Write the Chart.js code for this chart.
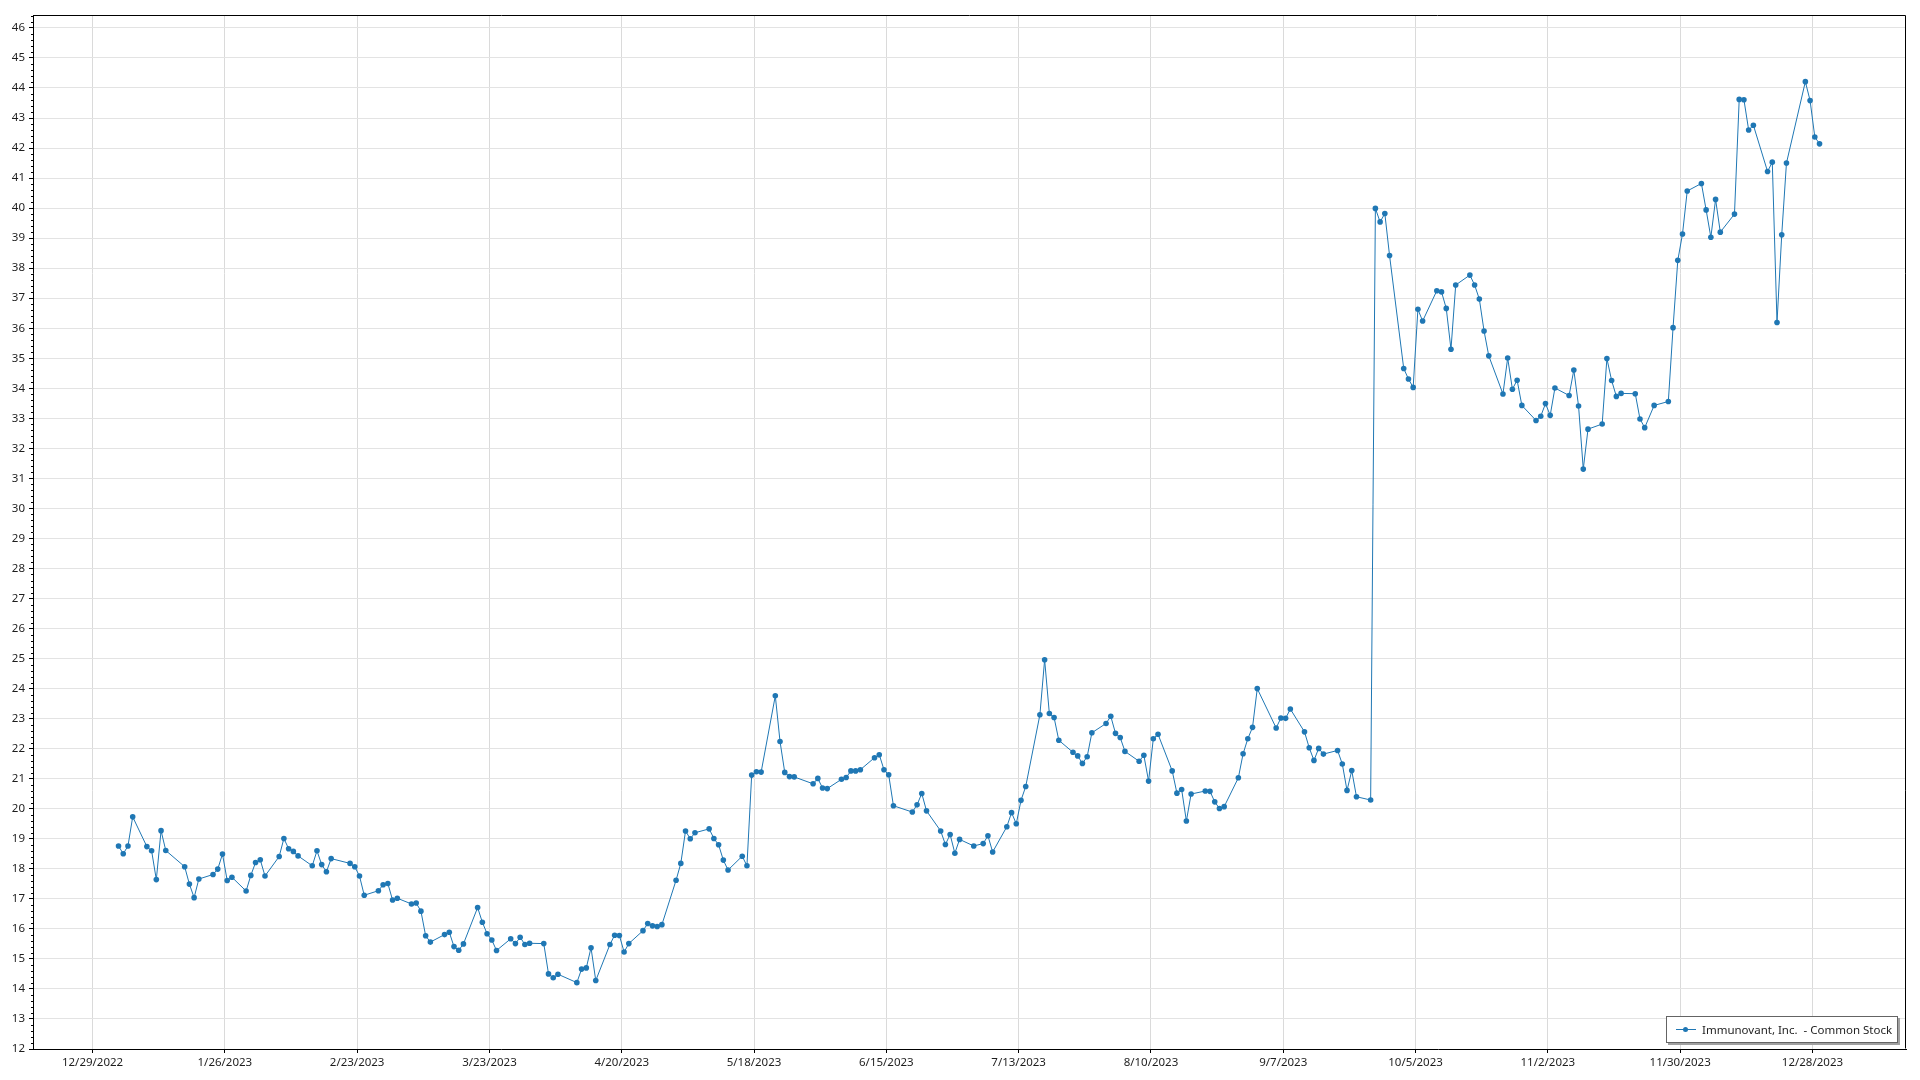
<!DOCTYPE html>
<html>
<head>
<meta charset="utf-8">
<script src="https://cdn.jsdelivr.net/npm/chart.js@4.4.1/dist/chart.umd.min.js"></script>
<style>
  html, body { margin: 0; padding: 0; background: #fff; overflow: hidden; }
  #wrap { position: relative; width: 1920px; height: 1080px; }
  #legend {
    position: absolute; left: 1666px; top: 1016px; width: 230px; height: 25px;
    border: 1px solid #646464; background: #fff; box-shadow: 2px 2px 0 #a0a0a0;
    font-family: "Noto Sans", "Open Sans", sans-serif; font-size: 11.5px; color: #1e1e1e;
    display: flex; align-items: center; white-space: pre;
  }
  #legend .sym { position: relative; width: 20px; height: 2px; margin-left: 9px; margin-right: 6px; }
  #legend .sym::before { content: ""; position: absolute; left: 0; right: 0; top: 0; height: 1px; background: #1f77b4; }
  #legend .sym::after { content: ""; position: absolute; left: 7px; top: -2px; width: 5px; height: 5px; border-radius: 50%; background: #1f77b4; }
</style>
</head>
<body>
<div id="wrap">
  <canvas id="c" width="1920" height="1080"></canvas>
  <div id="legend"><span class="sym"></span><span id="legendText"></span></div>
</div>
<script>
const seriesName = "Immunovant, Inc.  - Common Stock";

// Trading days of 2023 (day of month) and closing prices, by month
const janDays = [3,4,5,6,9,10,11,12,13,17,18,19,20,23,24,25,26,27,30,31];
const janClose = [18.76,18.50,18.76,19.73,18.74,18.60,17.64,19.27,18.61,18.07,17.49,17.04,17.66,17.81,17.99,18.49,17.61,17.72,17.26,17.78];
const febDays = [1,2,3,6,7,8,9,10,13,14,15,16,17,21,22,23,24,27,28];
const febClose = [18.21,18.30,17.76,18.41,19.01,18.67,18.58,18.43,18.10,18.60,18.14,17.90,18.34,18.18,18.07,17.76,17.12,17.27,17.47];
const marDays = [1,2,3,6,7,8,9,10,13,14,15,16,17,20,21,22,23,24,27,28,29,30,31];
const marClose = [17.51,16.96,17.02,16.83,16.86,16.59,15.77,15.56,15.81,15.89,15.41,15.29,15.50,16.71,16.22,15.84,15.63,15.28,15.67,15.51,15.72,15.48,15.52];
const aprDays = [3,4,5,6,10,11,12,13,14,17,18,19,20,21,24,25,26,27,28];
const aprClose = [15.51,14.50,14.37,14.49,14.21,14.66,14.70,15.37,14.28,15.48,15.79,15.78,15.23,15.51,15.94,16.18,16.10,16.08,16.14];
const mayDays = [1,2,3,4,5,8,9,10,11,12,15,16,17,18,19,22,23,24,25,26,30,31];
const mayClose = [17.62,18.18,19.26,19.00,19.20,19.33,19.01,18.80,18.29,17.96,18.42,18.10,21.12,21.23,21.22,23.76,22.24,21.21,21.07,21.06,20.83,21.01];
const junDays = [1,2,5,6,7,8,9,12,13,14,15,16,20,21,22,23,26,27,28,29,30];
const junClose = [20.69,20.67,20.98,21.04,21.26,21.26,21.30,21.70,21.80,21.30,21.13,20.10,19.89,20.13,20.51,19.93,19.26,18.81,19.14,18.52,18.98];
const julDays = [3,5,6,7,10,11,12,13,14,17,18,19,20,21,24,25,26,27,28,31];
const julClose = [18.76,18.84,19.10,18.56,19.40,19.87,19.50,20.28,20.74,23.13,24.96,23.17,23.04,22.28,21.88,21.76,21.51,21.73,22.53,22.84];
const augDays = [1,2,3,4,7,8,9,10,11,14,15,16,17,18,21,22,23,24,25,28,29,30,31];
const augClose = [23.08,22.51,22.37,21.91,21.58,21.78,20.92,22.33,22.48,21.26,20.52,20.64,19.59,20.49,20.59,20.58,20.23,20.01,20.07,21.03,21.83,22.33,22.71];
const sepDays = [1,5,6,7,8,11,12,13,14,15,18,19,20,21,22,25,26,27,28,29];
const sepClose = [24.00,22.69,23.02,23.01,23.32,22.56,22.03,21.61,22.01,21.82,21.94,21.49,20.61,21.27,20.40,20.29,39.99,39.54,39.82,38.42];
const octDays = [2,3,4,5,6,9,10,11,12,13,16,17,18,19,20,23,24,25,26,27,30,31];
const octClose = [34.66,34.31,34.03,36.63,36.24,37.25,37.21,36.66,35.30,37.44,37.77,37.44,36.97,35.91,35.08,33.81,35.01,33.97,34.27,33.43,32.93,33.07];
const novDays = [1,2,3,6,7,8,9,10,13,14,15,16,17,20,21,22,24,27,28,29,30];
const novClose = [33.49,33.10,34.01,33.76,34.61,33.41,31.31,32.64,32.81,34.99,34.26,33.73,33.83,33.82,32.98,32.69,33.43,33.56,36.02,38.26,39.14];
const decDays = [1,4,5,6,7,8,11,12,13,14,15,18,19,20,21,22,26,27,28,29];
const decClose = [40.57,40.82,39.94,39.03,40.29,39.20,39.80,43.62,43.61,42.60,42.76,41.22,41.53,36.19,39.11,41.50,44.21,43.58,42.37,42.14];

const xTickLabels = ["12/29/2022","1/26/2023","2/23/2023","3/23/2023","4/20/2023","5/18/2023","6/15/2023","7/13/2023","8/10/2023","9/7/2023","10/5/2023","11/2/2023","11/30/2023","12/28/2023"];
const yTickValues = [12,13,14,15,16,17,18,19,20,21,22,23,24,25,26,27,28,29,30,31,32,33,34,35,36,37,38,39,40,41,42,43,44,45,46];

// ---- build from arrays ----
const DAY = 86400000;
const origin = Date.UTC(2022, 11, 29);
function dayNum(y, m, d, hour) { return (Date.UTC(y, m, d, hour || 0) - origin) / DAY; }
function parseMDY(s) { const [m, d, y] = s.split('/').map(Number); return dayNum(y, m - 1, d); }

const monthDays = [janDays,febDays,marDays,aprDays,mayDays,junDays,julDays,augDays,sepDays,octDays,novDays,decDays];
const monthClose = [janClose,febClose,marClose,aprClose,mayClose,junClose,julClose,augClose,sepClose,octClose,novClose,decClose];
const points = [];
// each session is stamped at midday
monthDays.forEach((days, m) => days.forEach((d, i) => points.push({ x: dayNum(2023, m, d, 12), y: monthClose[m][i] })));
const xTickDays = xTickLabels.map(parseMDY);

document.getElementById('legendText').textContent = seriesName;

const FONT = { family: "'Noto Sans', 'Open Sans', sans-serif", size: 11.5 };
const TEXT = '#1e1e1e';
const LINE = '#1f77b4';

const frame = {
  id: 'frame',
  afterDraw(chart) {
    const { ctx, chartArea: a, scales: { y } } = chart;
    ctx.save();
    ctx.strokeStyle = '#000';
    ctx.lineWidth = 1;
    ctx.beginPath();
    ctx.moveTo(Math.round(a.left) + 0.5, Math.round(a.top) + 0.5);
    ctx.lineTo(Math.round(a.right) - 0.5, Math.round(a.top) + 0.5);
    ctx.lineTo(Math.round(a.right) - 0.5, Math.round(a.bottom) - 0.5);
    ctx.stroke();
    // minor ticks on the value axis
    ctx.beginPath();
    for (let k = 0; k < yTickValues.length; k++) {
      for (let j = 1; j < 5; j++) {
        const v = yTickValues[k] + j * 0.2;
        if (v > y.max) break;
        const py = Math.round(y.getPixelForValue(v)) + 0.5;
        ctx.moveTo(Math.round(a.left) - 2, py);
        ctx.lineTo(Math.round(a.left), py);
      }
    }
    ctx.stroke();
    ctx.restore();
  }
};

new Chart(document.getElementById('c'), {
  type: 'line',
  data: {
    datasets: [{
      label: seriesName,
      data: points,
      borderColor: LINE,
      backgroundColor: LINE,
      borderWidth: 1,
      pointRadius: 2.8,
      pointHoverRadius: 2.8,
      pointBorderWidth: 0,
      tension: 0
    }]
  },
  options: {
    responsive: false,
    animation: false,
    devicePixelRatio: 1,
    layout: { padding: { top: 15, right: 14, left: 0, bottom: 0 } },
    plugins: { legend: { display: false }, tooltip: { enabled: false } },
    scales: {
      x: {
        type: 'linear',
        min: -12.6,
        max: 383.8,
        afterBuildTicks: s => { s.ticks = xTickDays.map(v => ({ value: v })); },
        afterFit: s => { s.height = 31; },
        ticks: {
          autoSkip: false, maxRotation: 0, padding: 3, font: FONT, color: TEXT,
          callback: v => xTickLabels[xTickDays.indexOf(v)]
        },
        grid: { color: '#dadada', tickColor: '#000', tickLength: 4 },
        border: { color: '#000', width: 1 }
      },
      y: {
        type: 'linear',
        min: 12,
        max: 46.43,
        afterBuildTicks: s => { s.ticks = yTickValues.map(v => ({ value: v })); },
        afterFit: s => { s.width = 33; },
        ticks: { autoSkip: false, padding: 4, font: FONT, color: TEXT, callback: v => String(v) },
        grid: { color: '#e3e3e3', tickColor: '#000', tickLength: 4 },
        border: { color: '#000', width: 1 }
      }
    }
  },
  plugins: [frame]
});
</script>
</body>
</html>
